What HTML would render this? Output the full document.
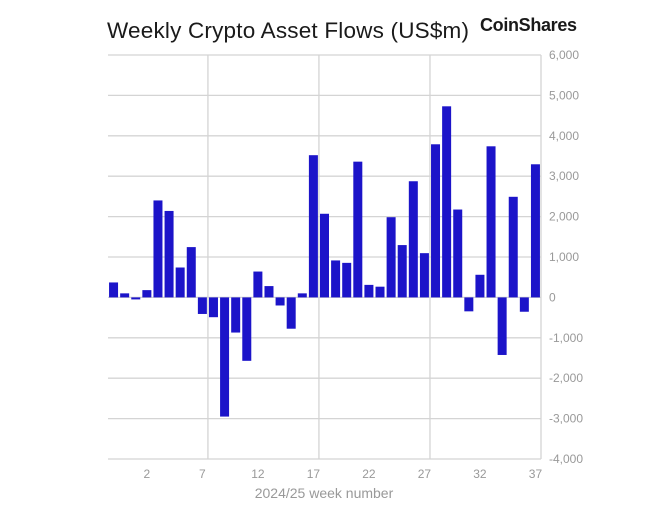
<!DOCTYPE html>
<html><head><meta charset="utf-8"><style>
body{margin:0;background:#fff;width:646px;height:508px;overflow:hidden;font-family:"Liberation Sans",sans-serif}
svg{display:block}
</style></head><body>
<svg id="chart" width="646" height="508">
<text x="107" y="38" font-size="22.5" fill="#1a1a1a" textLength="362">Weekly Crypto Asset Flows (US$m)</text>
<text x="480" y="31" font-size="18" font-weight="bold" fill="#1a1a1a" textLength="97">CoinShares</text>
<text x="324" y="498" font-size="14" fill="#999" text-anchor="middle">2024/25 week number</text>
<g id="grid"></g><g id="bars"></g><g id="labels"></g>
</svg>
<script>
const categories=[51,52,1,2,3,4,5,6,7,8,9,10,11,12,13,14,15,16,17,18,19,20,21,22,23,24,25,26,27,28,29,30,31,32,33,34,35,36,37];
const flows=[370,100,-50,180,2400,2140,740,1245,-410,-490,-2950,-870,-1570,640,280,-200,-775,100,3520,2070,915,855,3360,310,265,1985,1295,2875,1095,3790,4730,2175,-345,560,3740,-1425,2490,-355,3295];
const yTicks=[6000,5000,4000,3000,2000,1000,0,-1000,-2000,-3000,-4000];
const xTickLabels=[2,7,12,17,22,27,32,37];
const vGridWeeks=[7,17,27];
const NS="http://www.w3.org/2000/svg";
const L=108,R=541,T=55,B=459,yMin=-4000,yMax=6000;
const step=(R-L)/categories.length;
const y=v=>T+(yMax-v)/(yMax-yMin)*(B-T);
const xc=i=>L+step*(i+0.5);
function mk(tag,parent,attrs){const e=document.createElementNS(NS,tag);for(const k in attrs)e.setAttribute(k,attrs[k]);document.getElementById(parent).appendChild(e);return e;}
yTicks.forEach(t=>{
  const ln=mk('line','grid',{x1:L,x2:R,y1:y(t),y2:y(t),stroke:'#d4d4d4','stroke-width':1.3});
  
  
  const tx=mk('text','labels',{x:549,y:y(t)+4,'font-size':12,fill:'#999'});
  tx.textContent=t.toLocaleString('en-US');
  
  
});
vGridWeeks.forEach(w=>{
  const i=categories.indexOf(w);
  const ln=mk('line','grid',{x1:xc(i)+step/2,x2:xc(i)+step/2,y1:T,y2:B,stroke:'#d4d4d4','stroke-width':1.3});
  
  
});
const rb=mk('line','grid',{x1:R,x2:R,y1:T,y2:B,stroke:'#d4d4d4','stroke-width':1.3});


flows.forEach((v,i)=>{
  const y0=y(0),yv=y(v);
  const r=mk('rect','bars',{x:xc(i)-4.5,width:9,y:Math.min(y0,yv),height:Math.max(1,Math.abs(yv-y0)),fill:'#1c14c9'});
  
  
});
xTickLabels.forEach(w=>{
  const i=categories.indexOf(w);
  const tx=mk('text','labels',{x:xc(i),y:478,'font-size':12,fill:'#999','text-anchor':'middle'});
  tx.textContent=w;
  
  
});
</script>
</body></html>
